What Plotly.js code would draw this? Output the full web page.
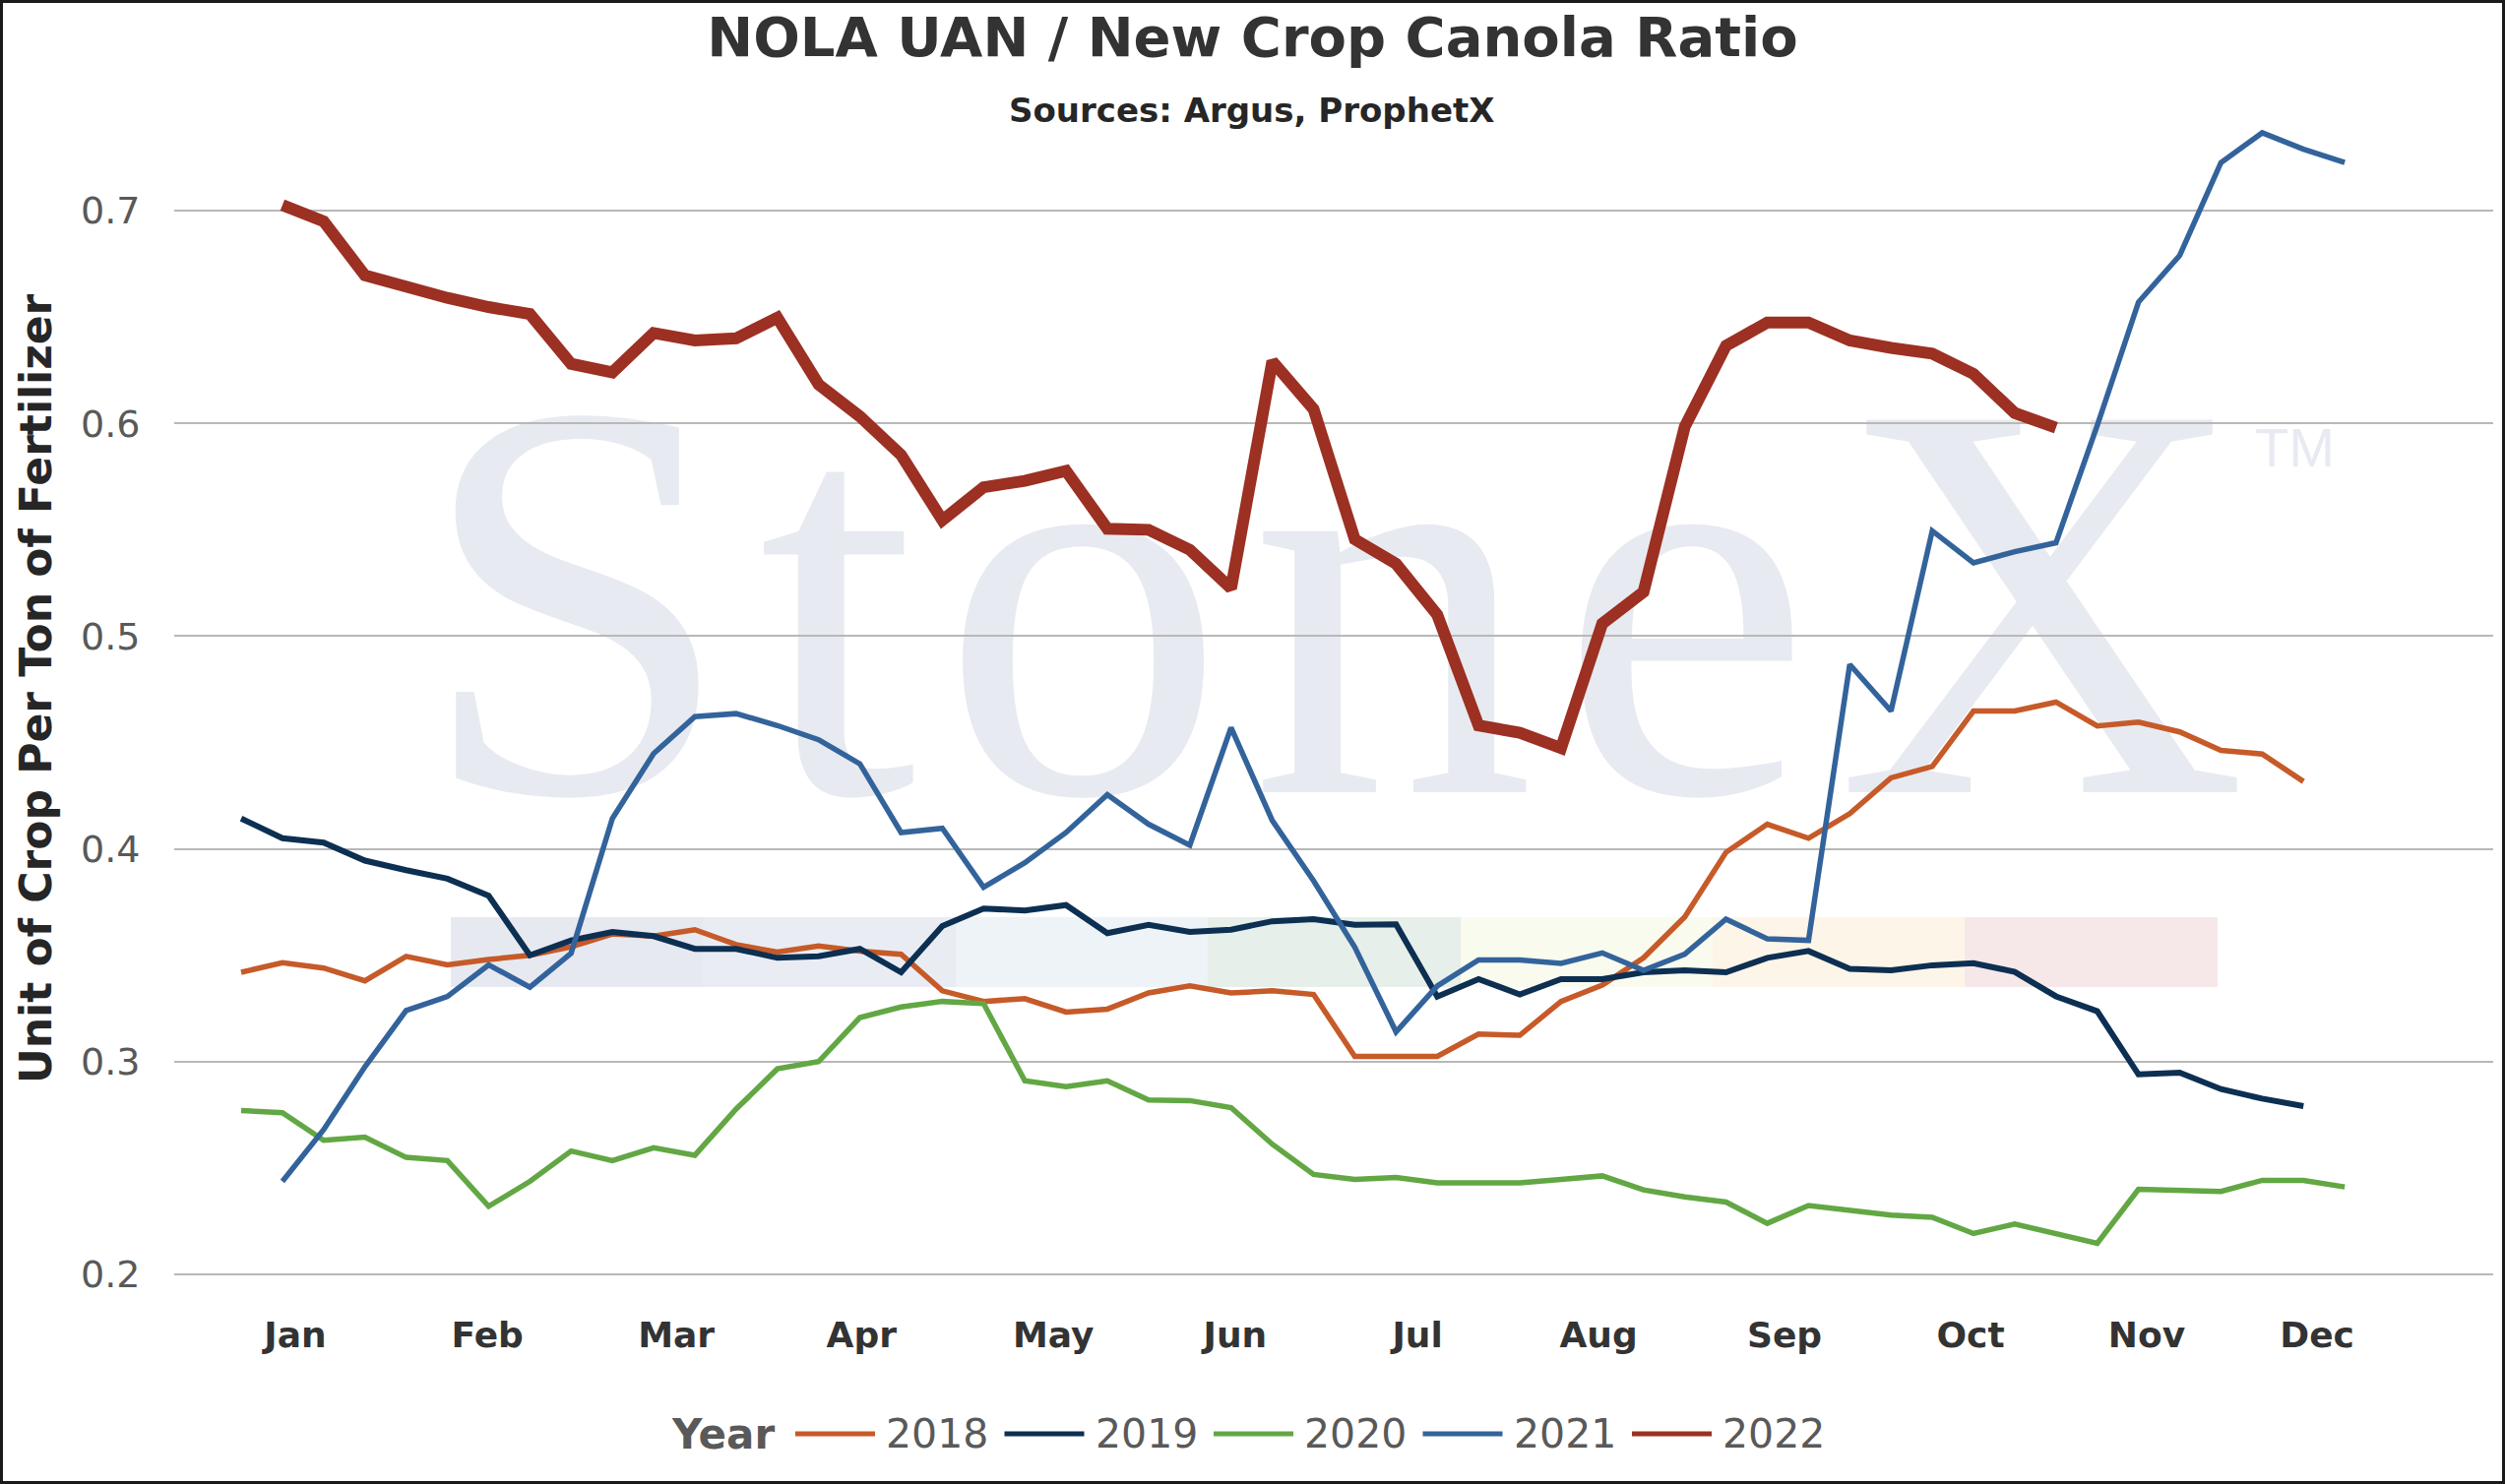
<!DOCTYPE html>
<html>
<head>
<meta charset="utf-8">
<script src="https://cdn.plot.ly/plotly-3.0.1.min.js"></script>
<style>
  html, body { margin: 0; padding: 0; background: #fff; }
  #wrap { position: relative; width: 2545px; height: 1508px; overflow: hidden; background: #fff; }
  /* StoneX watermark sits behind the transparent plot */
  #mark { position: absolute; left: 424px; top: 321px; font-family: 'Liberation Serif', serif; font-size: 578px; line-height: 578px; letter-spacing: 25px; color: #e7eaf0; white-space: nowrap; }
  #mark span { letter-spacing: 0; }
  #tm { position: absolute; left: 2291px; top: 427px; font-family: 'Liberation Sans', sans-serif; font-size: 56px; line-height: 56px; color: #e7eaf0; }
  .band { position: absolute; top: 932px; height: 71px; width: 257px; }
  #chart { position: absolute; left: 0; top: 0; width: 2545px; height: 1508px; }
  #frame { position: absolute; left: 0; top: 0; right: 0; bottom: 0; border: 3px solid #1a1a1a; pointer-events: none; }
</style>
</head>
<body>
<div id="wrap">
  <div id="mark">Stone<span>X</span></div>
  <div id="tm">TM</div>
  <div id="bands"></div>
  <div id="chart"></div>
  <div id="frame"></div>
</div>
<script>
// ─── data: weekly ratio, week 1..52 ───────────────────────────
var weeks = [1, 2, 3, 4, 5, 6, 7, 8, 9, 10, 11, 12, 13, 14, 15, 16, 17, 18, 19, 20, 21, 22, 23, 24, 25, 26,
             27, 28, 29, 30, 31, 32, 33, 34, 35, 36, 37, 38, 39, 40, 41, 42, 43, 44, 45, 46, 47, 48, 49, 50, 51, 52];

var y2018 = [0.342, 0.3465, 0.344, 0.338, 0.3495, 0.3455, 0.348, 0.350, 0.354, 0.360,
             0.359, 0.362, 0.355, 0.3515, 0.3544, 0.352, 0.3505, 0.3333, 0.3283, 0.3296,
             0.3233, 0.3247, 0.3323, 0.3356, 0.3323, 0.3333, 0.3316, 0.3025, 0.3025, 0.3025,
             0.313, 0.3124, 0.3283, 0.336, 0.3488, 0.368, 0.3984, 0.4116, 0.405, 0.4166,
             0.4334, 0.4387, 0.4648, 0.4648, 0.469, 0.4578, 0.4596, 0.455, 0.4463, 0.4446,
             0.4317, null];

var y2019 = [0.4143, 0.405, 0.403, 0.3945, 0.390, 0.386, 0.378, 0.350, 0.357, 0.361,
             0.359, 0.353, 0.353, 0.3488, 0.3495, 0.353, 0.342, 0.3637, 0.372, 0.371,
             0.3736, 0.3604, 0.3643, 0.361, 0.362, 0.366, 0.367, 0.3643, 0.3646, 0.3306,
             0.3388, 0.3316, 0.3388, 0.3388, 0.342, 0.3429, 0.342, 0.3488, 0.352, 0.3436,
             0.3429, 0.3453, 0.3463, 0.3422, 0.3307, 0.3237, 0.294, 0.2948, 0.2871, 0.2826,
             0.2791, null];

var y2020 = [0.277, 0.276, 0.263, 0.2645, 0.255, 0.2535, 0.232, 0.2437, 0.258, 0.2535,
             0.2595, 0.256, 0.2777, 0.2966, 0.300, 0.3207, 0.3257, 0.3283, 0.3273, 0.291,
             0.2883, 0.291, 0.282, 0.2817, 0.2784, 0.2612, 0.247, 0.2446, 0.2456, 0.243,
             0.243, 0.243, 0.2446, 0.2463, 0.2397, 0.2364, 0.234, 0.224, 0.2324, 0.2304,
             0.2279, 0.2268, 0.2192, 0.2237, 0.2192, 0.2146, 0.240, 0.2394, 0.239, 0.2442,
             0.2442, 0.2411];

var y2021 = [null, 0.2437, 0.268, 0.2976, 0.324, 0.3306, 0.3455, 0.335, 0.351, 0.4143,
             0.4448, 0.4622, 0.4636, 0.458, 0.4513, 0.440, 0.4077, 0.4097, 0.382, 0.3935,
             0.4077, 0.4255, 0.4116, 0.4017, 0.457, 0.4133, 0.385, 0.3538, 0.314, 0.3356,
             0.3478, 0.3478, 0.3462, 0.3511, 0.3429, 0.3505, 0.367, 0.3577, 0.357, 0.4867,
             0.4648, 0.5495, 0.5345, 0.5397, 0.5439, 0.599, 0.657, 0.679, 0.7226, 0.7366,
             0.7289, 0.7226];

var y2022 = [null, 0.7026, 0.695, 0.6696, 0.664, 0.659, 0.6547, 0.6514, 0.628, 0.624,
             0.6425, 0.639, 0.640, 0.6497, 0.6183, 0.6033, 0.5852, 0.5545, 0.570, 0.573,
             0.5777, 0.5505, 0.550, 0.5406, 0.5225, 0.6292, 0.6067, 0.5455, 0.534, 0.510,
             0.458, 0.4546, 0.4474, 0.5059, 0.5208, 0.5985, 0.6365, 0.6474, 0.6474, 0.639,
             0.6355, 0.6328, 0.6233, 0.6049, 0.598, null, null, null, null, null,
             null, null];

var monthLabels = ['Jan', 'Feb', 'Mar', 'Apr', 'May', 'Jun', 'Jul', 'Aug', 'Sep', 'Oct', 'Nov', 'Dec'];
var monthWeeks = [2.31, 6.97, 11.55, 16.04, 20.69, 25.1, 29.52, 33.91, 38.42, 42.93, 47.2, 51.33];

// ─── background logo bar ──────────────────────────────────────
var bandColors = ['#e6e9f0', '#e9edf3', '#eef3f8', '#e6efe9', '#fafbef', '#fdf5e8', '#f6e8e9'];
var bandBox = document.getElementById('bands');
bandColors.forEach(function (c, i) {
  var d = document.createElement('div');
  d.className = 'band';
  d.style.left = (458 + i * 256.4) + 'px';
  d.style.background = c;
  bandBox.appendChild(d);
});

// ─── traces ──────────────────────────────────────────────────
var series = [
  { name: '2018', y: y2018, color: '#c65a28', width: 5.5 },
  { name: '2019', y: y2019, color: '#0c2f52', width: 6 },
  { name: '2020', y: y2020, color: '#62a744', width: 5.5 },
  { name: '2021', y: y2021, color: '#33639b', width: 5.5 },
  { name: '2022', y: y2022, color: '#9c3022', width: 12 }
];

var traces = series.map(function (s) {
  return {
    type: 'scatter', mode: 'lines', name: s.name,
    x: weeks, y: s.y,
    line: { color: s.color, width: s.width },
    showlegend: false,
    hoverinfo: 'x+y+name'
  };
});

var font = 'DejaVu Sans, Verdana, sans-serif';

// plot area in page pixels, used to place the legend row, subtitle and axis title
var plotL = 177, plotW = 2356, plotB = 1310, plotH = 1190;
function px(x) { return (x - plotL) / plotW; }
function py(y) { return (plotB - y) / plotH; }

// hand-built legend row: "Year" then a line sample and label per series
var legendY = 1457;
var shapes = [];
var annotations = [{
  text: '<b>Sources: Argus, ProphetX</b>',
  xref: 'paper', x: px(1271), xanchor: 'center',
  yref: 'paper', y: py(112), yanchor: 'middle',
  showarrow: false,
  font: { family: font, size: 34, color: '#262626' }
}, {
  // y axis title, placed by hand to sit where the reference has it
  text: '<b>Unit of Crop Per Ton of Fertilizer</b>',
  textangle: -90,
  xref: 'paper', x: px(36), xanchor: 'center',
  yref: 'paper', y: py(700), yanchor: 'middle',
  showarrow: false,
  font: { family: font, size: 44, color: '#262626' }
}, {
  text: '<b>Year</b>',
  xref: 'paper', x: px(680), xanchor: 'left',
  yref: 'paper', y: py(legendY), yanchor: 'middle',
  showarrow: false,
  font: { family: font, size: 42, color: '#595959' }
}];
series.forEach(function (s, i) {
  var x0 = 808 + i * 212.5;
  shapes.push({
    type: 'line', xref: 'paper', yref: 'paper',
    x0: px(x0), x1: px(x0 + 81), y0: py(legendY), y1: py(legendY),
    line: { color: s.color, width: 5 }
  });
  annotations.push({
    text: s.name,
    xref: 'paper', x: px(x0 + 90), xanchor: 'left',
    yref: 'paper', y: py(legendY), yanchor: 'middle',
    showarrow: false,
    font: { family: font, size: 41, color: '#595959' }
  });
});

var layout = {
  width: 2545, height: 1508,
  paper_bgcolor: 'rgba(0,0,0,0)',
  plot_bgcolor: 'rgba(0,0,0,0)',
  margin: { l: plotL, r: 12, t: 120, b: 1508 - plotB },
  showlegend: false,
  font: { family: font, color: '#595959' },
  title: {
    text: '<b>NOLA UAN / New Crop Canola Ratio</b>',
    font: { family: font, size: 56, color: '#333333' },
    xref: 'container', x: 0.5, xanchor: 'center',
    yref: 'container', y: 1 - 37 / 1508, yanchor: 'middle'
  },
  xaxis: {
    range: [-0.623, 55.6],
    tickmode: 'array', tickvals: monthWeeks, ticktext: monthLabels,
    tickfont: { family: font, size: 36, color: '#333333', weight: 'bold' },
    ticks: 'outside', ticklen: 15, tickcolor: 'rgba(0,0,0,0)',
    showgrid: false, zeroline: false, showline: false
  },
  yaxis: {
    range: [0.19306, 0.74352],
    tickvals: [0.2, 0.3, 0.4, 0.5, 0.6, 0.7],
    ticktext: ['0.2', '0.3', '0.4', '0.5', '0.6', '0.7'],
    tickfont: { family: font, size: 38, color: '#595959' },
    ticks: 'outside', ticklen: 26, tickcolor: 'rgba(0,0,0,0)',
    showgrid: true, gridcolor: '#b8b8b8', gridwidth: 2,
    zeroline: false, showline: false
  },
  shapes: shapes,
  annotations: annotations
};

Plotly.newPlot('chart', traces, layout, { displayModeBar: false, responsive: false });
</script>
</body>
</html>
